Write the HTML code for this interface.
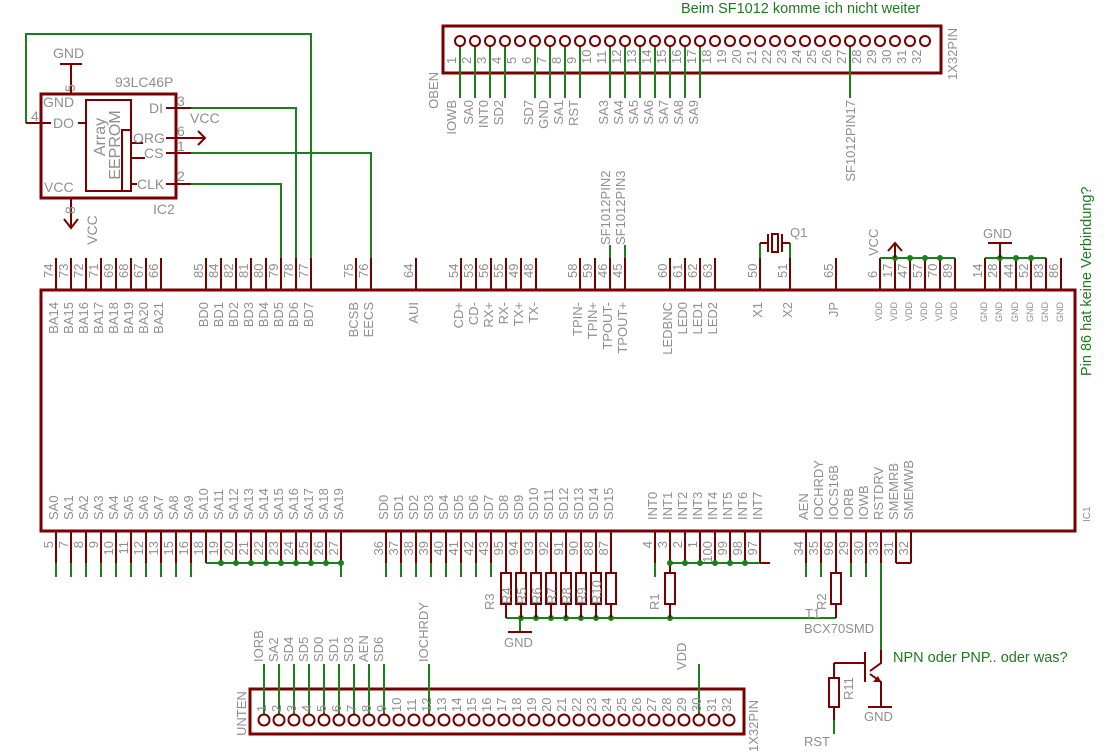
<!DOCTYPE html>
<html><head><meta charset="utf-8"><style>
html,body{margin:0;padding:0;background:#fff}
svg{display:block}
text{font-family:"Liberation Sans",sans-serif;fill:#8f8f8f;font-size:13px}
.g{fill:#1e7a1e;font-size:14.5px}
.s{font-size:9px}
.e{font-size:14px}
.r{stroke:#7a0000;fill:none}
.w{stroke:#1a801a;fill:none}
</style></head><body>
<svg width="1118" height="753" viewBox="0 0 1118 753" xmlns="http://www.w3.org/2000/svg">
<rect x="41" y="290" width="1034" height="241" class="r" stroke-width="3"/>

<g class="r" stroke-width="2">
<path d="M56 258V290M71 258V290M86 258V290M101 258V290M116 258V290M131 258V290M146 258V290M161 258V290"/>
<path d="M206 258V290M221 258V290M236 258V290M251 258V290M266 258V290M281 258V290M296 258V290M311 258V290"/>
<path d="M356 258V290M371 258V290M416 258V290"/>
<path d="M461 258V290M476 258V290M491 258V290M506 258V290M521 258V290M536 258V290"/>
<path d="M580 258V290M595 258V290M610 258V290M625 258V290"/>
<path d="M670 258V290M685 258V290M700 258V290M715 258V290"/>
<path d="M760 258V290M790 258V290M836 258V290"/>
<path d="M880 258V290M895 258V290M910 258V290M925 258V290M940 258V290M955 258V290"/>
<path d="M985 258V290M1000 258V290M1016 258V290M1031 258V290M1046 258V290M1061 258V290"/>
</g>
<g>
<text transform="translate(53,278) rotate(-90)">74</text><text transform="translate(68,278) rotate(-90)">73</text><text transform="translate(83,278) rotate(-90)">72</text><text transform="translate(98,278) rotate(-90)">71</text><text transform="translate(113,278) rotate(-90)">69</text><text transform="translate(128,278) rotate(-90)">68</text><text transform="translate(143,278) rotate(-90)">67</text><text transform="translate(158,278) rotate(-90)">66</text>
<text transform="translate(203,278) rotate(-90)">85</text><text transform="translate(218,278) rotate(-90)">84</text><text transform="translate(233,278) rotate(-90)">82</text><text transform="translate(248,278) rotate(-90)">81</text><text transform="translate(263,278) rotate(-90)">80</text><text transform="translate(278,278) rotate(-90)">79</text><text transform="translate(293,278) rotate(-90)">78</text><text transform="translate(308,278) rotate(-90)">77</text>
<text transform="translate(353,278) rotate(-90)">75</text><text transform="translate(368,278) rotate(-90)">76</text><text transform="translate(413,278) rotate(-90)">64</text>
<text transform="translate(458,278) rotate(-90)">54</text><text transform="translate(473,278) rotate(-90)">53</text><text transform="translate(488,278) rotate(-90)">56</text><text transform="translate(503,278) rotate(-90)">55</text><text transform="translate(518,278) rotate(-90)">49</text><text transform="translate(533,278) rotate(-90)">48</text>
<text transform="translate(577,278) rotate(-90)">58</text><text transform="translate(592,278) rotate(-90)">59</text><text transform="translate(607,278) rotate(-90)">46</text><text transform="translate(622,278) rotate(-90)">45</text>
<text transform="translate(667,278) rotate(-90)">60</text><text transform="translate(682,278) rotate(-90)">61</text><text transform="translate(697,278) rotate(-90)">62</text><text transform="translate(712,278) rotate(-90)">63</text>
<text transform="translate(757,278) rotate(-90)">50</text><text transform="translate(787,278) rotate(-90)">51</text><text transform="translate(833,278) rotate(-90)">65</text>
<text transform="translate(877,278) rotate(-90)">6</text><text transform="translate(892,278) rotate(-90)">17</text><text transform="translate(907,278) rotate(-90)">47</text><text transform="translate(922,278) rotate(-90)">57</text><text transform="translate(937,278) rotate(-90)">70</text><text transform="translate(952,278) rotate(-90)">89</text>
<text transform="translate(982,278) rotate(-90)">14</text><text transform="translate(997,278) rotate(-90)">28</text><text transform="translate(1013,278) rotate(-90)">44</text><text transform="translate(1028,278) rotate(-90)">52</text><text transform="translate(1043,278) rotate(-90)">83</text><text transform="translate(1058,278) rotate(-90)">86</text>
</g>
<g text-anchor="end">
<text transform="translate(58,302) rotate(-90)">BA14</text><text transform="translate(73,302) rotate(-90)">BA15</text><text transform="translate(88,302) rotate(-90)">BA16</text><text transform="translate(103,302) rotate(-90)">BA17</text><text transform="translate(118,302) rotate(-90)">BA18</text><text transform="translate(133,302) rotate(-90)">BA19</text><text transform="translate(148,302) rotate(-90)">BA20</text><text transform="translate(163,302) rotate(-90)">BA21</text>
<text transform="translate(208,302) rotate(-90)">BD0</text><text transform="translate(223,302) rotate(-90)">BD1</text><text transform="translate(238,302) rotate(-90)">BD2</text><text transform="translate(253,302) rotate(-90)">BD3</text><text transform="translate(268,302) rotate(-90)">BD4</text><text transform="translate(283,302) rotate(-90)">BD5</text><text transform="translate(298,302) rotate(-90)">BD6</text><text transform="translate(313,302) rotate(-90)">BD7</text>
<text transform="translate(358,302) rotate(-90)">BCSB</text><text transform="translate(373,302) rotate(-90)">EECS</text><text transform="translate(418,302) rotate(-90)">AUI</text>
<text transform="translate(463,302) rotate(-90)">CD+</text><text transform="translate(478,302) rotate(-90)">CD-</text><text transform="translate(493,302) rotate(-90)">RX+</text><text transform="translate(508,302) rotate(-90)">RX-</text><text transform="translate(523,302) rotate(-90)">TX+</text><text transform="translate(538,302) rotate(-90)">TX-</text>
<text transform="translate(582,302) rotate(-90)">TPIN-</text><text transform="translate(597,302) rotate(-90)">TPIN+</text><text transform="translate(612,302) rotate(-90)">TPOUT-</text><text transform="translate(627,302) rotate(-90)">TPOUT+</text>
<text transform="translate(672,302) rotate(-90)">LEDBNC</text><text transform="translate(687,302) rotate(-90)">LED0</text><text transform="translate(702,302) rotate(-90)">LED1</text><text transform="translate(717,302) rotate(-90)">LED2</text>
<text transform="translate(762,302) rotate(-90)">X1</text><text transform="translate(792,302) rotate(-90)">X2</text><text transform="translate(838,302) rotate(-90)">JP</text>
<text transform="translate(882,302) rotate(-90)" class="s">VDD</text><text transform="translate(897,302) rotate(-90)" class="s">VDD</text><text transform="translate(912,302) rotate(-90)" class="s">VDD</text><text transform="translate(927,302) rotate(-90)" class="s">VDD</text><text transform="translate(942,302) rotate(-90)" class="s">VDD</text><text transform="translate(957,302) rotate(-90)" class="s">VDD</text>
<text transform="translate(987,302) rotate(-90)" class="s">GND</text><text transform="translate(1002,302) rotate(-90)" class="s">GND</text><text transform="translate(1018,302) rotate(-90)" class="s">GND</text><text transform="translate(1033,302) rotate(-90)" class="s">GND</text><text transform="translate(1048,302) rotate(-90)" class="s">GND</text><text transform="translate(1063,302) rotate(-90)" class="s">GND</text>
</g>

<g class="r" stroke-width="2">
<path d="M56 531V563M71 531V563M86 531V563M101 531V563M116 531V563M131 531V563M146 531V563M161 531V563M176 531V563M191 531V563"/>
<path d="M206 531V563M221 531V563M236 531V563M251 531V563M266 531V563M281 531V563M296 531V563M311 531V563M326 531V563M341 531V563"/>
<path d="M386 531V563M401 531V563M416 531V563M431 531V563M446 531V563M461 531V563M476 531V563M491 531V563"/>
<path d="M506 531V573M521 531V573M536 531V573M551 531V573M566 531V573M581 531V573M596 531V573M611 531V573"/>
<path d="M655 531V563M670 531V573M685 531V563M700 531V563M715 531V563M730 531V563M745 531V563M760 531V563H770"/>
<path d="M806 531V563M821 531V563M836 531V573M851 531V563M866 531V563M881 531V563M896 531V563M911 531V563M896 563H911"/>
</g>
<g text-anchor="end">
<text transform="translate(53,541) rotate(-90)">5</text><text transform="translate(68,541) rotate(-90)">7</text><text transform="translate(83,541) rotate(-90)">8</text><text transform="translate(98,541) rotate(-90)">9</text><text transform="translate(113,541) rotate(-90)">10</text><text transform="translate(128,541) rotate(-90)">11</text><text transform="translate(143,541) rotate(-90)">12</text><text transform="translate(158,541) rotate(-90)">13</text><text transform="translate(173,541) rotate(-90)">15</text><text transform="translate(188,541) rotate(-90)">16</text>
<text transform="translate(203,541) rotate(-90)">18</text><text transform="translate(218,541) rotate(-90)">19</text><text transform="translate(233,541) rotate(-90)">20</text><text transform="translate(248,541) rotate(-90)">21</text><text transform="translate(263,541) rotate(-90)">22</text><text transform="translate(278,541) rotate(-90)">23</text><text transform="translate(293,541) rotate(-90)">24</text><text transform="translate(308,541) rotate(-90)">25</text><text transform="translate(323,541) rotate(-90)">26</text><text transform="translate(338,541) rotate(-90)">27</text>
<text transform="translate(383,541) rotate(-90)">36</text><text transform="translate(398,541) rotate(-90)">37</text><text transform="translate(413,541) rotate(-90)">38</text><text transform="translate(428,541) rotate(-90)">39</text><text transform="translate(443,541) rotate(-90)">40</text><text transform="translate(458,541) rotate(-90)">41</text><text transform="translate(473,541) rotate(-90)">42</text><text transform="translate(488,541) rotate(-90)">43</text>
<text transform="translate(503,541) rotate(-90)">95</text><text transform="translate(518,541) rotate(-90)">94</text><text transform="translate(533,541) rotate(-90)">93</text><text transform="translate(548,541) rotate(-90)">92</text><text transform="translate(563,541) rotate(-90)">91</text><text transform="translate(578,541) rotate(-90)">90</text><text transform="translate(593,541) rotate(-90)">88</text><text transform="translate(608,541) rotate(-90)">87</text>
<text transform="translate(652,541) rotate(-90)">4</text><text transform="translate(667,541) rotate(-90)">3</text><text transform="translate(682,541) rotate(-90)">2</text><text transform="translate(697,541) rotate(-90)">1</text><text transform="translate(712,541) rotate(-90)">100</text><text transform="translate(727,541) rotate(-90)">99</text><text transform="translate(742,541) rotate(-90)">98</text><text transform="translate(757,541) rotate(-90)">97</text>
<text transform="translate(803,541) rotate(-90)">34</text><text transform="translate(818,541) rotate(-90)">35</text><text transform="translate(833,541) rotate(-90)">96</text><text transform="translate(848,541) rotate(-90)">29</text><text transform="translate(863,541) rotate(-90)">30</text><text transform="translate(878,541) rotate(-90)">33</text><text transform="translate(893,541) rotate(-90)">31</text><text transform="translate(908,541) rotate(-90)">32</text>
</g>
<g>
<text transform="translate(58,520) rotate(-90)">SA0</text><text transform="translate(73,520) rotate(-90)">SA1</text><text transform="translate(88,520) rotate(-90)">SA2</text><text transform="translate(103,520) rotate(-90)">SA3</text><text transform="translate(118,520) rotate(-90)">SA4</text><text transform="translate(133,520) rotate(-90)">SA5</text><text transform="translate(148,520) rotate(-90)">SA6</text><text transform="translate(163,520) rotate(-90)">SA7</text><text transform="translate(178,520) rotate(-90)">SA8</text><text transform="translate(193,520) rotate(-90)">SA9</text>
<text transform="translate(208,520) rotate(-90)">SA10</text><text transform="translate(223,520) rotate(-90)">SA11</text><text transform="translate(238,520) rotate(-90)">SA12</text><text transform="translate(253,520) rotate(-90)">SA13</text><text transform="translate(268,520) rotate(-90)">SA14</text><text transform="translate(283,520) rotate(-90)">SA15</text><text transform="translate(298,520) rotate(-90)">SA16</text><text transform="translate(313,520) rotate(-90)">SA17</text><text transform="translate(328,520) rotate(-90)">SA18</text><text transform="translate(343,520) rotate(-90)">SA19</text>
<text transform="translate(388,520) rotate(-90)">SD0</text><text transform="translate(403,520) rotate(-90)">SD1</text><text transform="translate(418,520) rotate(-90)">SD2</text><text transform="translate(433,520) rotate(-90)">SD3</text><text transform="translate(448,520) rotate(-90)">SD4</text><text transform="translate(463,520) rotate(-90)">SD5</text><text transform="translate(478,520) rotate(-90)">SD6</text><text transform="translate(493,520) rotate(-90)">SD7</text>
<text transform="translate(508,520) rotate(-90)">SD8</text><text transform="translate(523,520) rotate(-90)">SD9</text><text transform="translate(538,520) rotate(-90)">SD10</text><text transform="translate(553,520) rotate(-90)">SD11</text><text transform="translate(568,520) rotate(-90)">SD12</text><text transform="translate(583,520) rotate(-90)">SD13</text><text transform="translate(598,520) rotate(-90)">SD14</text><text transform="translate(613,520) rotate(-90)">SD15</text>
<text transform="translate(657,520) rotate(-90)">INT0</text><text transform="translate(672,520) rotate(-90)">INT1</text><text transform="translate(687,520) rotate(-90)">INT2</text><text transform="translate(702,520) rotate(-90)">INT3</text><text transform="translate(717,520) rotate(-90)">INT4</text><text transform="translate(732,520) rotate(-90)">INT5</text><text transform="translate(747,520) rotate(-90)">INT6</text><text transform="translate(762,520) rotate(-90)">INT7</text>
<text transform="translate(808,520) rotate(-90)">AEN</text><text transform="translate(823,520) rotate(-90)">IOCHRDY</text><text transform="translate(838,520) rotate(-90)">IOCS16B</text><text transform="translate(853,520) rotate(-90)">IORB</text><text transform="translate(868,520) rotate(-90)">IOWB</text><text transform="translate(883,520) rotate(-90)">RSTDRV</text><text transform="translate(898,520) rotate(-90)">SMEMRB</text><text transform="translate(913,520) rotate(-90)">SMEMWB</text>
</g>
<text transform="translate(1090,522) rotate(-90)" style="font-size:10px">IC1</text>
<text transform="translate(1091,376) rotate(-90)" class="g">Pin 86 hat keine Verbindung?</text>

<g class="w" stroke-width="2">
<path d="M56 563V577M71 563V577M86 563V577M101 563V577M116 563V577M131 563V577M146 563V577M161 563V577M176 563V577M191 563V577"/>
<path d="M206 563H341V577"/>
<path d="M386 563V577M401 563V577M416 563V577M431 563V577M446 563V577M461 563V577M476 563V577M491 563V577"/>
<path d="M655 563V577M670 563H760"/>
<path d="M806 563V577M821 563V577M851 563V577M866 563V577M881 563V650"/>
<path d="M506 618H836"/>
<path d="M520 618V632"/>
<path d="M880 258H955M985 258H1046"/>
<path d="M610 245V258M625 245V258"/>
<path d="M760 243V258M790 243V258"/>
<path d="M26 123V34H311V258"/>
<path d="M191 108H296V258"/>
<path d="M191 153H371V258"/>
<path d="M191 184H281V258"/>
</g>
<g stroke="none" fill="#1a801a">
<circle cx="221" cy="563" r="3"/><circle cx="236" cy="563" r="3"/><circle cx="251" cy="563" r="3"/><circle cx="266" cy="563" r="3"/><circle cx="281" cy="563" r="3"/><circle cx="296" cy="563" r="3"/><circle cx="311" cy="563" r="3"/><circle cx="326" cy="563" r="3"/><circle cx="341" cy="563" r="3"/>
<circle cx="670" cy="563" r="3"/><circle cx="685" cy="563" r="3"/><circle cx="700" cy="563" r="3"/><circle cx="715" cy="563" r="3"/><circle cx="730" cy="563" r="3"/><circle cx="745" cy="563" r="3"/>
<circle cx="521" cy="618" r="3"/><circle cx="536" cy="618" r="3"/><circle cx="551" cy="618" r="3"/><circle cx="566" cy="618" r="3"/><circle cx="581" cy="618" r="3"/><circle cx="596" cy="618" r="3"/><circle cx="611" cy="618" r="3"/><circle cx="670" cy="618" r="3"/>
<circle cx="895" cy="258" r="3"/><circle cx="910" cy="258" r="3"/><circle cx="925" cy="258" r="3"/><circle cx="940" cy="258" r="3"/>
<circle cx="1000" cy="258" r="3"/><circle cx="1016" cy="258" r="3"/><circle cx="1031" cy="258" r="3"/>
</g>

<g class="r" stroke-width="2">
<rect x="501" y="573" width="10" height="31"/><rect x="516" y="573" width="10" height="31"/><rect x="531" y="573" width="10" height="31"/><rect x="546" y="573" width="10" height="31"/><rect x="561" y="573" width="10" height="31"/><rect x="576" y="573" width="10" height="31"/><rect x="591" y="573" width="10" height="31"/><rect x="606" y="573" width="10" height="31"/>
<path d="M506 604V618M521 604V618M536 604V618M551 604V618M566 604V618M581 604V618M596 604V618M611 604V618"/>
<rect x="665" y="573" width="10" height="31"/><path d="M670 604V618"/>
<rect x="831" y="573" width="10" height="31"/><path d="M836 604V618"/>
<path d="M508 632H532"/>
<path d="M881 650V663L870 671M865 652V682M834 663H865M870 674L881 682V707"/>
<path d="M868 707H892"/>
<rect x="829" y="678" width="10" height="29"/>
<path d="M834 663V678M834 707V720"/>
</g>
<path d="M834 720V734" class="w" stroke-width="2"/>
<path d="M881 682L873 682L878 676Z" fill="#7a0000"/>
<text transform="translate(494,610) rotate(-90)">R3</text>
<text transform="translate(511,604) rotate(-90)">R4</text><text transform="translate(526,604) rotate(-90)">R5</text><text transform="translate(541,604) rotate(-90)">R6</text><text transform="translate(556,604) rotate(-90)">R7</text><text transform="translate(571,604) rotate(-90)">R8</text><text transform="translate(586,604) rotate(-90)">R9</text><text transform="translate(601,604) rotate(-90)">R10</text>
<text transform="translate(659,610) rotate(-90)">R1</text>
<text transform="translate(826,610) rotate(-90)">R2</text>
<text x="805" y="618">T1</text>
<text x="804" y="633">BCX70SMD</text>
<text transform="translate(853,700) rotate(-90)">R11</text>
<text x="504" y="647">GND</text>
<text x="864" y="721">GND</text>
<text x="804" y="746">RST</text>
<text x="893" y="662" class="g">NPN oder PNP.. oder was?</text>

<g class="r" stroke-width="2">
<path d="M760 243H768M790 243H782M768 234V252M782 234V252"/>
<rect x="772" y="234" width="6" height="18"/>
<path d="M895 258V243M888 251L895 243L902 251"/>
<path d="M1000 258V243M988 243H1012"/>
</g>
<text x="790" y="237">Q1</text>
<text transform="translate(878,256) rotate(-90)">VCC</text>
<text x="983" y="238">GND</text>
<text transform="translate(610,245) rotate(-90)">SF1012PIN2</text>
<text transform="translate(625,245) rotate(-90)">SF1012PIN3</text>

<g class="r" stroke-width="2">
<rect x="41" y="94" width="135" height="104" stroke-width="3"/>
<rect x="86" y="100" width="45" height="91"/>
<rect x="122" y="130" width="9" height="61"/>
<path d="M71 64V94M60 64H82"/>
<path d="M26 123H51M78 123H86"/>
<path d="M166 108H191M166 138H205M198 131L205 138L198 145M166 153H191M166 184H191"/>
<path d="M131 143H143M131 158H145M131 184H137"/>
<path d="M71 198V228M64 219L71 228L78 219"/>
</g>
<text x="53" y="58" class="e">GND</text>
<text x="115" y="87" class="e">93LC46P</text>
<text x="43" y="107" class="e">GND</text>
<text x="31" y="121" class="e">4</text>
<text transform="translate(75,92) rotate(-90)" class="e">5</text>
<text x="53" y="128" class="e">DO</text>
<text x="149" y="113" class="e">DI</text>
<text x="177" y="106" class="e">3</text>
<text x="190" y="123" class="e">VCC</text>
<text x="133" y="143" class="e">ORG</text>
<text x="177" y="136" class="e">6</text>
<text x="144" y="158" class="e">CS</text>
<text x="177" y="151" class="e">1</text>
<text x="137" y="189" class="e">CLK</text>
<text x="177" y="181" class="e">2</text>
<text x="44" y="192" class="e">VCC</text>
<text x="153" y="214" class="e">IC2</text>
<text transform="translate(75,214) rotate(-90)" class="e">8</text>
<text transform="translate(97,230) rotate(-90)" text-anchor="middle" class="e">VCC</text>
<text transform="translate(105,137) rotate(-90)" text-anchor="middle" style="font-size:16px">Array</text>
<text transform="translate(120,145) rotate(-90)" text-anchor="middle" style="font-size:16px">EEPROM</text>

<text x="681" y="13" class="g">Beim SF1012 komme ich nicht weiter</text>
<rect x="443" y="26" width="498" height="47" class="r" stroke-width="3"/>
<g class="w" stroke-width="2">
<path d="M460 46V98M475 46V98M490 46V98M505 46V98M535 46V98M550 46V98M565 46V98M580 46V98M610 46V98M625 46V98M640 46V98M655 46V98M670 46V98M685 46V98M700 46V98M850 46V98"/>
</g>
<g class="r" stroke-width="2">
<circle cx="460" cy="41" r="5"/><circle cx="475" cy="41" r="5"/><circle cx="490" cy="41" r="5"/><circle cx="505" cy="41" r="5"/><circle cx="520" cy="41" r="5"/><circle cx="535" cy="41" r="5"/><circle cx="550" cy="41" r="5"/><circle cx="565" cy="41" r="5"/><circle cx="580" cy="41" r="5"/><circle cx="595" cy="41" r="5"/><circle cx="610" cy="41" r="5"/><circle cx="625" cy="41" r="5"/><circle cx="640" cy="41" r="5"/><circle cx="655" cy="41" r="5"/><circle cx="670" cy="41" r="5"/><circle cx="685" cy="41" r="5"/><circle cx="700" cy="41" r="5"/><circle cx="715" cy="41" r="5"/><circle cx="730" cy="41" r="5"/><circle cx="745" cy="41" r="5"/><circle cx="760" cy="41" r="5"/><circle cx="775" cy="41" r="5"/><circle cx="790" cy="41" r="5"/><circle cx="805" cy="41" r="5"/><circle cx="820" cy="41" r="5"/><circle cx="835" cy="41" r="5"/><circle cx="850" cy="41" r="5"/><circle cx="865" cy="41" r="5"/><circle cx="880" cy="41" r="5"/><circle cx="895" cy="41" r="5"/><circle cx="910" cy="41" r="5"/><circle cx="925" cy="41" r="5"/>
</g>
<g>
<text transform="translate(456,64) rotate(-90)">1</text><text transform="translate(471,64) rotate(-90)">2</text><text transform="translate(486,64) rotate(-90)">3</text><text transform="translate(501,64) rotate(-90)">4</text><text transform="translate(516,64) rotate(-90)">5</text><text transform="translate(531,64) rotate(-90)">6</text><text transform="translate(546,64) rotate(-90)">7</text><text transform="translate(561,64) rotate(-90)">8</text><text transform="translate(576,64) rotate(-90)">9</text><text transform="translate(591,64) rotate(-90)">10</text><text transform="translate(606,64) rotate(-90)">11</text><text transform="translate(621,64) rotate(-90)">12</text><text transform="translate(636,64) rotate(-90)">13</text><text transform="translate(651,64) rotate(-90)">14</text><text transform="translate(666,64) rotate(-90)">15</text><text transform="translate(681,64) rotate(-90)">16</text><text transform="translate(696,64) rotate(-90)">17</text><text transform="translate(711,64) rotate(-90)">18</text><text transform="translate(726,64) rotate(-90)">19</text><text transform="translate(741,64) rotate(-90)">20</text><text transform="translate(756,64) rotate(-90)">21</text><text transform="translate(771,64) rotate(-90)">22</text><text transform="translate(786,64) rotate(-90)">23</text><text transform="translate(801,64) rotate(-90)">24</text><text transform="translate(816,64) rotate(-90)">25</text><text transform="translate(831,64) rotate(-90)">26</text><text transform="translate(846,64) rotate(-90)">27</text><text transform="translate(861,64) rotate(-90)">28</text><text transform="translate(876,64) rotate(-90)">29</text><text transform="translate(891,64) rotate(-90)">30</text><text transform="translate(906,64) rotate(-90)">31</text><text transform="translate(921,64) rotate(-90)">32</text>
</g>
<g text-anchor="end">
<text transform="translate(456,100) rotate(-90)">IOWB</text><text transform="translate(473,100) rotate(-90)">SA0</text><text transform="translate(488,100) rotate(-90)">INT0</text><text transform="translate(503,100) rotate(-90)">SD2</text>
<text transform="translate(533,100) rotate(-90)">SD7</text><text transform="translate(548,100) rotate(-90)">GND</text><text transform="translate(563,100) rotate(-90)">SA1</text><text transform="translate(578,100) rotate(-90)">RST</text>
<text transform="translate(608,100) rotate(-90)">SA3</text><text transform="translate(623,100) rotate(-90)">SA4</text><text transform="translate(638,100) rotate(-90)">SA5</text><text transform="translate(653,100) rotate(-90)">SA6</text><text transform="translate(668,100) rotate(-90)">SA7</text><text transform="translate(683,100) rotate(-90)">SA8</text><text transform="translate(698,100) rotate(-90)">SA9</text>
<text transform="translate(855,100) rotate(-90)">SF1012PIN17</text>
<text transform="translate(438,72) rotate(-90)">OBEN</text>
<text transform="translate(957,28) rotate(-90)">1X32PIN</text>
</g>

<rect x="250" y="689" width="494" height="45" class="r" stroke-width="3"/>
<g class="w" stroke-width="2">
<path d="M264 664V715M279 664V715M294 664V715M309 664V715M324 664V715M339 664V715M354 664V715M369 664V715M384 664V715M429 664V715M699 664V715"/>
</g>
<g class="r" stroke-width="2">
<circle cx="264" cy="720" r="5.5"/><circle cx="279" cy="720" r="5.5"/><circle cx="294" cy="720" r="5.5"/><circle cx="309" cy="720" r="5.5"/><circle cx="324" cy="720" r="5.5"/><circle cx="339" cy="720" r="5.5"/><circle cx="354" cy="720" r="5.5"/><circle cx="369" cy="720" r="5.5"/><circle cx="384" cy="720" r="5.5"/><circle cx="399" cy="720" r="5.5"/><circle cx="414" cy="720" r="5.5"/><circle cx="429" cy="720" r="5.5"/><circle cx="444" cy="720" r="5.5"/><circle cx="459" cy="720" r="5.5"/><circle cx="474" cy="720" r="5.5"/><circle cx="489" cy="720" r="5.5"/><circle cx="504" cy="720" r="5.5"/><circle cx="519" cy="720" r="5.5"/><circle cx="534" cy="720" r="5.5"/><circle cx="549" cy="720" r="5.5"/><circle cx="564" cy="720" r="5.5"/><circle cx="579" cy="720" r="5.5"/><circle cx="594" cy="720" r="5.5"/><circle cx="609" cy="720" r="5.5"/><circle cx="624" cy="720" r="5.5"/><circle cx="639" cy="720" r="5.5"/><circle cx="654" cy="720" r="5.5"/><circle cx="669" cy="720" r="5.5"/><circle cx="684" cy="720" r="5.5"/><circle cx="699" cy="720" r="5.5"/><circle cx="714" cy="720" r="5.5"/><circle cx="729" cy="720" r="5.5"/>
</g>
<g>
<text transform="translate(266,712) rotate(-90)">1</text><text transform="translate(281,712) rotate(-90)">2</text><text transform="translate(296,712) rotate(-90)">3</text><text transform="translate(311,712) rotate(-90)">4</text><text transform="translate(326,712) rotate(-90)">5</text><text transform="translate(341,712) rotate(-90)">6</text><text transform="translate(356,712) rotate(-90)">7</text><text transform="translate(371,712) rotate(-90)">8</text><text transform="translate(386,712) rotate(-90)">9</text><text transform="translate(401,712) rotate(-90)">10</text><text transform="translate(416,712) rotate(-90)">11</text><text transform="translate(431,712) rotate(-90)">12</text><text transform="translate(446,712) rotate(-90)">13</text><text transform="translate(461,712) rotate(-90)">14</text><text transform="translate(476,712) rotate(-90)">15</text><text transform="translate(491,712) rotate(-90)">16</text><text transform="translate(506,712) rotate(-90)">17</text><text transform="translate(521,712) rotate(-90)">18</text><text transform="translate(536,712) rotate(-90)">19</text><text transform="translate(551,712) rotate(-90)">20</text><text transform="translate(566,712) rotate(-90)">21</text><text transform="translate(581,712) rotate(-90)">22</text><text transform="translate(596,712) rotate(-90)">23</text><text transform="translate(611,712) rotate(-90)">24</text><text transform="translate(626,712) rotate(-90)">25</text><text transform="translate(641,712) rotate(-90)">26</text><text transform="translate(656,712) rotate(-90)">27</text><text transform="translate(671,712) rotate(-90)">28</text><text transform="translate(686,712) rotate(-90)">29</text><text transform="translate(701,712) rotate(-90)">30</text><text transform="translate(716,712) rotate(-90)">31</text><text transform="translate(731,712) rotate(-90)">32</text>
<text transform="translate(263,662) rotate(-90)">IORB</text><text transform="translate(278,662) rotate(-90)">SA2</text><text transform="translate(293,662) rotate(-90)">SD4</text><text transform="translate(308,662) rotate(-90)">SD5</text><text transform="translate(323,662) rotate(-90)">SD0</text><text transform="translate(338,662) rotate(-90)">SD1</text><text transform="translate(353,662) rotate(-90)">SD3</text><text transform="translate(368,662) rotate(-90)">AEN</text><text transform="translate(383,662) rotate(-90)">SD6</text>
<text transform="translate(428,662) rotate(-90)">IOCHRDY</text>
<text transform="translate(686,670) rotate(-90)">VDD</text>
<text transform="translate(246,736) rotate(-90)">UNTEN</text>
<text transform="translate(758,752) rotate(-90)">1X32PIN</text>
</g>
</svg>
</body></html>
